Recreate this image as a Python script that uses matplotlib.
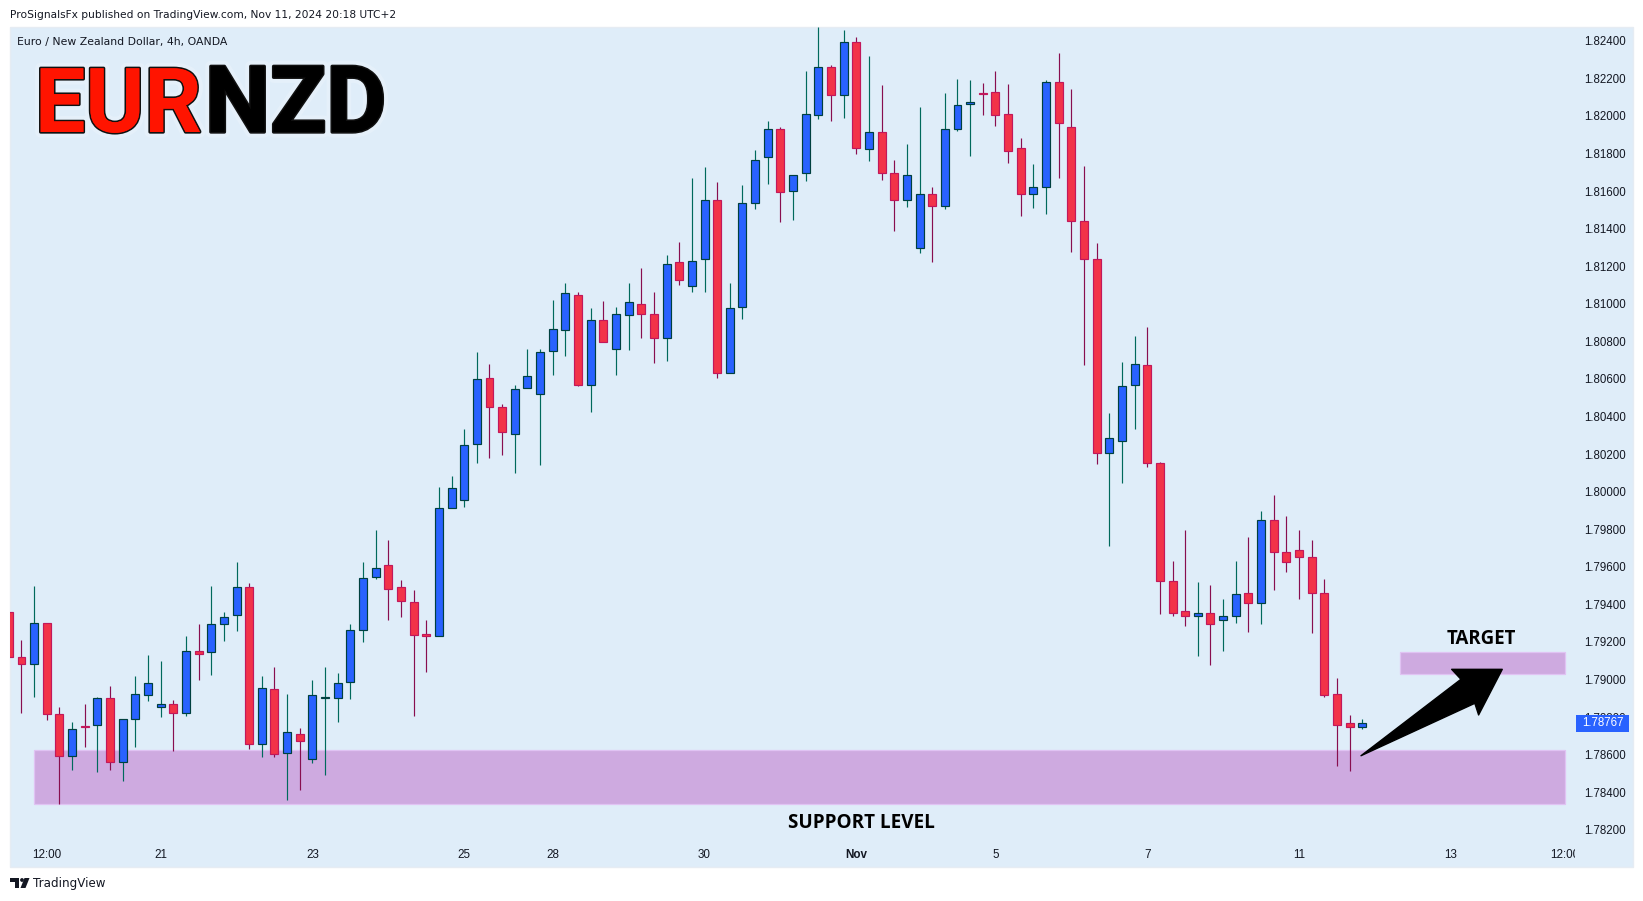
import matplotlib
matplotlib.use("Agg")
import matplotlib.pyplot as plt
import matplotlib.patheffects as pe
from matplotlib.patches import Rectangle, Polygon, Circle

W, H = 1643, 901

opens = [
 1.79357,1.79117,1.79085,1.79302,1.78814,1.78590,1.78751,1.78755,1.78899,1.78558,
 1.78787,1.78915,1.78856,1.78872,1.78824,1.79149,1.79144,1.79293,1.79341,1.79490,
 1.78659,1.78947,1.78606,1.78712,1.78574,1.78902,1.78904,1.78984,1.79261,1.79543,
 1.79612,1.79490,1.79415,1.79241,1.79234,1.79915,1.79958,1.80256,1.80607,1.80448,
 1.80309,1.80549,1.80522,1.80746,1.80863,1.81049,1.80570,1.80916,1.80757,1.80938,
 1.81001,1.80948,1.80820,1.81220,1.81097,1.81236,1.81555,1.80634,1.80985,1.81539,
 1.81779,1.81928,1.81598,1.81694,1.82003,1.82258,1.82109,1.82396,1.81822,1.81912,
 1.81694,1.81555,1.81295,1.81587,1.81523,1.81928,1.82061,1.82121,1.82130,1.82008,
 1.81827,1.81582,1.81619,1.82178,1.81939,1.81438,1.81241,1.80203,1.80272,1.80570,
 1.80672,1.80150,1.79522,1.79362,1.79336,1.79352,1.79315,1.79336,1.79458,1.79405,
 1.79847,1.79676,1.79687,1.79650,1.79458,1.78921,1.78766,1.78745]
highs = [
 1.79357,1.79209,1.79497,1.79302,1.78851,1.78776,1.78872,1.78909,1.78963,1.78792,
 1.79016,1.79128,1.79096,1.78890,1.79234,1.79293,1.79495,1.79357,1.79623,1.79516,
 1.79016,1.79064,1.78920,1.78744,1.78995,1.79069,1.79037,1.79293,1.79623,1.79798,
 1.79740,1.79532,1.79474,1.79314,1.80022,1.80082,1.80331,1.80741,1.80682,1.80469,
 1.80565,1.80757,1.80757,1.81019,1.81113,1.81065,1.80980,1.81017,1.80985,1.81113,
 1.81188,1.81065,1.81257,1.81331,1.81672,1.81726,1.81646,1.81108,1.81630,1.81816,
 1.81971,1.81939,1.81688,1.82237,1.82471,1.82269,1.82460,1.82418,1.82317,1.82162,
 1.81763,1.81848,1.82050,1.81619,1.82120,1.82194,1.82189,1.82173,1.82237,1.82168,
 1.81880,1.81742,1.82189,1.82333,1.82143,1.81735,1.81321,1.80421,1.80688,1.80831,
 1.80874,1.80157,1.79629,1.79794,1.79517,1.79501,1.79426,1.79629,1.79756,1.79895,
 1.79980,1.79868,1.79794,1.79740,1.79533,1.79006,1.78809,1.78788]
lows = [
 1.79117,1.78822,1.78908,1.78785,1.78336,1.78519,1.78641,1.78508,1.78519,1.78459,
 1.78641,1.78886,1.78801,1.78620,1.78806,1.78998,1.79025,1.79206,1.79259,1.78631,
 1.78588,1.78588,1.78358,1.78411,1.78556,1.78492,1.78775,1.78897,1.79200,1.79536,
 1.79318,1.79333,1.78806,1.79041,1.79234,1.79915,1.79917,1.80153,1.80180,1.80196,
 1.80100,1.80549,1.80143,1.80622,1.80723,1.80563,1.80425,1.80799,1.80622,1.80755,
 1.80819,1.80686,1.80696,1.81101,1.81064,1.81064,1.80606,1.80634,1.80918,1.81504,
 1.81639,1.81436,1.81447,1.81655,1.81985,1.81974,1.81990,1.81798,1.81761,1.81660,
 1.81389,1.81516,1.81271,1.81224,1.81506,1.81921,1.81788,1.82006,1.81948,1.81751,
 1.81468,1.81511,1.81479,1.81671,1.81277,1.80673,1.80148,1.79710,1.80045,1.80333,
 1.80132,1.79348,1.79338,1.79286,1.79126,1.79079,1.79153,1.79302,1.79254,1.79297,
 1.79478,1.79574,1.79430,1.79249,1.78908,1.78541,1.78514,1.78738]
closes = [
 1.79117,1.79085,1.79302,1.78814,1.78590,1.78734,1.78746,1.78899,1.78558,1.78787,
 1.78920,1.78979,1.78872,1.78824,1.79149,1.79133,1.79293,1.79330,1.79490,1.78659,
 1.78957,1.78601,1.78718,1.78670,1.78915,1.78906,1.78979,1.79261,1.79538,1.79596,
 1.79484,1.79420,1.79239,1.79232,1.79915,1.80017,1.80246,1.80602,1.80453,1.80315,
 1.80544,1.80618,1.80741,1.80868,1.81055,1.80570,1.80916,1.80799,1.80943,1.81007,
 1.80948,1.80820,1.81214,1.81124,1.81230,1.81550,1.80629,1.80980,1.81539,1.81763,
 1.81928,1.81593,1.81688,1.82008,1.82258,1.82114,1.82396,1.81827,1.81917,1.81694,
 1.81550,1.81683,1.81582,1.81523,1.81933,1.82056,1.82072,1.82118,1.82003,1.81811,
 1.81582,1.81619,1.82178,1.81960,1.81438,1.81236,1.80203,1.80283,1.80560,1.80682,
 1.80150,1.79526,1.79355,1.79339,1.79352,1.79293,1.79336,1.79453,1.79405,1.79847,
 1.79676,1.79623,1.79650,1.79458,1.78915,1.78759,1.78745,1.78767]

price_ticks = [1.782,1.784,1.786,1.788,1.790,1.792,1.794,1.796,1.798,1.800,1.802,
               1.804,1.806,1.808,1.810,1.812,1.814,1.816,1.818,1.820,1.822,1.824]
date_positions = [2, 11, 23, 35, 42, 54, 66, 77, 89, 101, 113, 122]
date_labels = ['12:00', '21', '23', '25', '28', '30', 'Nov', '5', '7', '11', '13', '12:00']
last_price = 1.78767
support_zone = (1, 122, 1.78336, 1.78622)
target_zone = (109, 122, 1.79030, 1.79144)
arrow_x = [105.9, 114.9, 115.2, 117.07, 113.07, 113.8]
arrow_y = [1.78594, 1.78873, 1.78811, 1.79054, 1.79054, 1.79001]

PANEL = '#DFEDF9'
UP, UP_E, UP_W = '#2962FF', '#00403F', '#00695C'
DN, DN_E, DN_W = '#F23349', '#C2185B', '#880E4F'
ZONE, ZONE_E = '#CEAAE0', '#E0C3F3'
TXT = '#131722'

plt.rcParams['font.family'] = ['Liberation Sans', 'DejaVu Sans']
fig = plt.figure(figsize=(W / 100, H / 100), dpi=100, facecolor='white')

def pix_axes(z):
    a = fig.add_axes([0, 0, 1, 1], zorder=z)
    a.set_xlim(0, W); a.set_ylim(H, 0); a.axis('off')
    a.patch.set_alpha(0)
    return a

bg = pix_axes(0)
ov = pix_axes(10)
bg.add_patch(Rectangle((9.5, 26.5), 1623.5, 840, fc=PANEL, ec='#E6ECF3', lw=1))

L, R, T, B = 10, 1575, 26.7, 866
ax = fig.add_axes([L / W, 1 - B / H, (R - L) / W, (B - T) / H], zorder=5)
ax.patch.set_alpha(0)
for s in ax.spines.values():
    s.set_visible(False)
ax.set_xlim(-0.909, 122.82)
ax.set_ylim(1.78007, 1.82475)

# zones
for x0, x1, y0, y1 in (support_zone, target_zone):
    ax.add_patch(Rectangle((x0, y0), x1 - x0, y1 - y0, fc=ZONE, ec=ZONE_E, lw=0.9, zorder=1))

# candles
xs = list(range(-1, len(opens) - 1))
for x, o, h, l, c in zip(xs, opens, highs, lows, closes):
    up = c >= o
    ax.vlines(x, l, h, color=UP_W if up else DN_W, lw=0.85, zorder=2)
    ax.bar(x, abs(c - o), bottom=min(o, c), width=0.63,
           color=UP if up else DN, edgecolor=UP_E if up else DN_E, linewidth=0.85, zorder=3)

# arrow
ax.add_patch(Polygon(list(zip(arrow_x, arrow_y)), closed=True, fc='black', ec='black',
                     lw=1, joinstyle='round', zorder=4))

ax.text(66.4, 1.78235, 'SUPPORT LEVEL', ha='center', va='center', family='Open Sans',
        weight='bold', fontsize=13.6, color='black', zorder=6)
ax.text(115.4, 1.79214, 'TARGET', ha='center', va='center', family='Open Sans',
        weight='bold', fontsize=13.4, color='black', zorder=6)

# axes
ax.yaxis.tick_right()
ax.set_yticks(price_ticks)
ax.set_yticklabels([f'{p:.5f}' for p in price_ticks])
ax.tick_params(axis='y', length=0, pad=6.6, labelsize=8.3, labelcolor=TXT)
ax.set_xticks(date_positions)
ax.set_xticklabels(date_labels)
ax.tick_params(axis='x', length=0, pad=-12.0, labelsize=8.4, labelcolor=TXT)
for t in ax.get_xticklabels():
    t.set_clip_on(True)
    t.set_clip_path(ax.patch)
    if t.get_text() == 'Nov':
        t.set_fontweight('bold')

# last price tag
ax.add_patch(Rectangle((1.0006, last_price - 8.5 / 18786), 0.03387, 17 / 18786, fc='#2962FF', ec='none',
                       transform=ax.get_yaxis_transform(), clip_on=False, zorder=7))
ax.text(1.0179, last_price, f'{last_price:.5f}', color='white', fontsize=8.3, ha='center', va='center',
        transform=ax.get_yaxis_transform(), clip_on=False, zorder=8)

# header & footer
ov.text(10, 15, 'ProSignalsFx published on TradingView.com, Nov 11, 2024 20:18 UTC+2',
        family='DejaVu Sans', fontsize=7.65, color=TXT, va='center', ha='left')
ov.text(17, 42, 'Euro / New Zealand Dollar, 4h, OANDA',
        family='DejaVu Sans', fontsize=7.87, color=TXT, va='center', ha='left')
ov.text(33, 883.5, 'TradingView', family='DejaVu Sans', fontsize=8.6, color=TXT, va='center', ha='left')
ov.add_patch(Polygon([(10, 878), (19.3, 878), (19.3, 888), (14.7, 888), (14.7, 882), (10, 882)], fc=TXT, ec='none'))
ov.add_patch(Circle((22, 880), 1.9, fc=TXT, ec='none'))
ov.add_patch(Polygon([(24.5, 878), (29.5, 878), (25.5, 888), (20.5, 888)], fc=TXT, ec='none'))

glow = pe.withStroke(linewidth=8, foreground='#EFF6FC', alpha=0.4)
outline = pe.withStroke(linewidth=2.4, foreground='#111111')
ov.text(35, 132, 'EUR', family='Roboto', weight='bold', fontsize=64.5, color='#FF1400',
        va='baseline', ha='left', path_effects=[glow, outline, pe.Normal()])
ov.text(205, 132, 'NZD', family='Roboto', weight='bold', fontsize=66.5, color='black',
        va='baseline', ha='left', path_effects=[glow, outline, pe.Normal()])

fig.savefig('out.png', dpi=100, facecolor='white')
